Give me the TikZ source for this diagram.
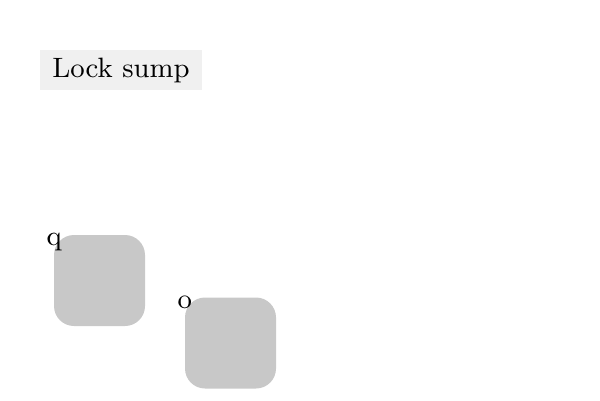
\documentclass[tikz,border=0pt]{standalone}
\usepackage{fontspec}
\newfontfamily\lmnine{lmroman9-regular}[Extension=.otf]
\usepackage{tikz}
\definecolor{titlebg}{HTML}{F0F0F0}
\definecolor{boxgray}{HTML}{C8C8C8}
\tikzset{
  titlebox/.style={fill=titlebg, inner sep=0pt, minimum width=162pt, minimum height=40pt, font=\lmnine\fontsize{28}{33}\selectfont},
  sqbox/.style={fill=boxgray, rounded corners=20pt, inner sep=0pt, minimum width=91pt, minimum height=91pt},
  lbl/.style={inner sep=0pt, anchor=base west, font=\lmnine\fontsize{28}{33}\selectfont}
}
\begin{document}
\begin{tikzpicture}[x=1pt,y=-1pt]
\useasboundingbox (0,0) rectangle (600,400);
\node[titlebox] (title) at (121,70) {Lock sump};
\node[sqbox] (q) at (99.5,280.5) {};
\node[sqbox] (o) at (230.5,343) {};
\node[lbl] (ql) at (46.5,245) {q};
\node[lbl] (ol) at (177.5,308) {o};
\end{tikzpicture}
\end{document}
